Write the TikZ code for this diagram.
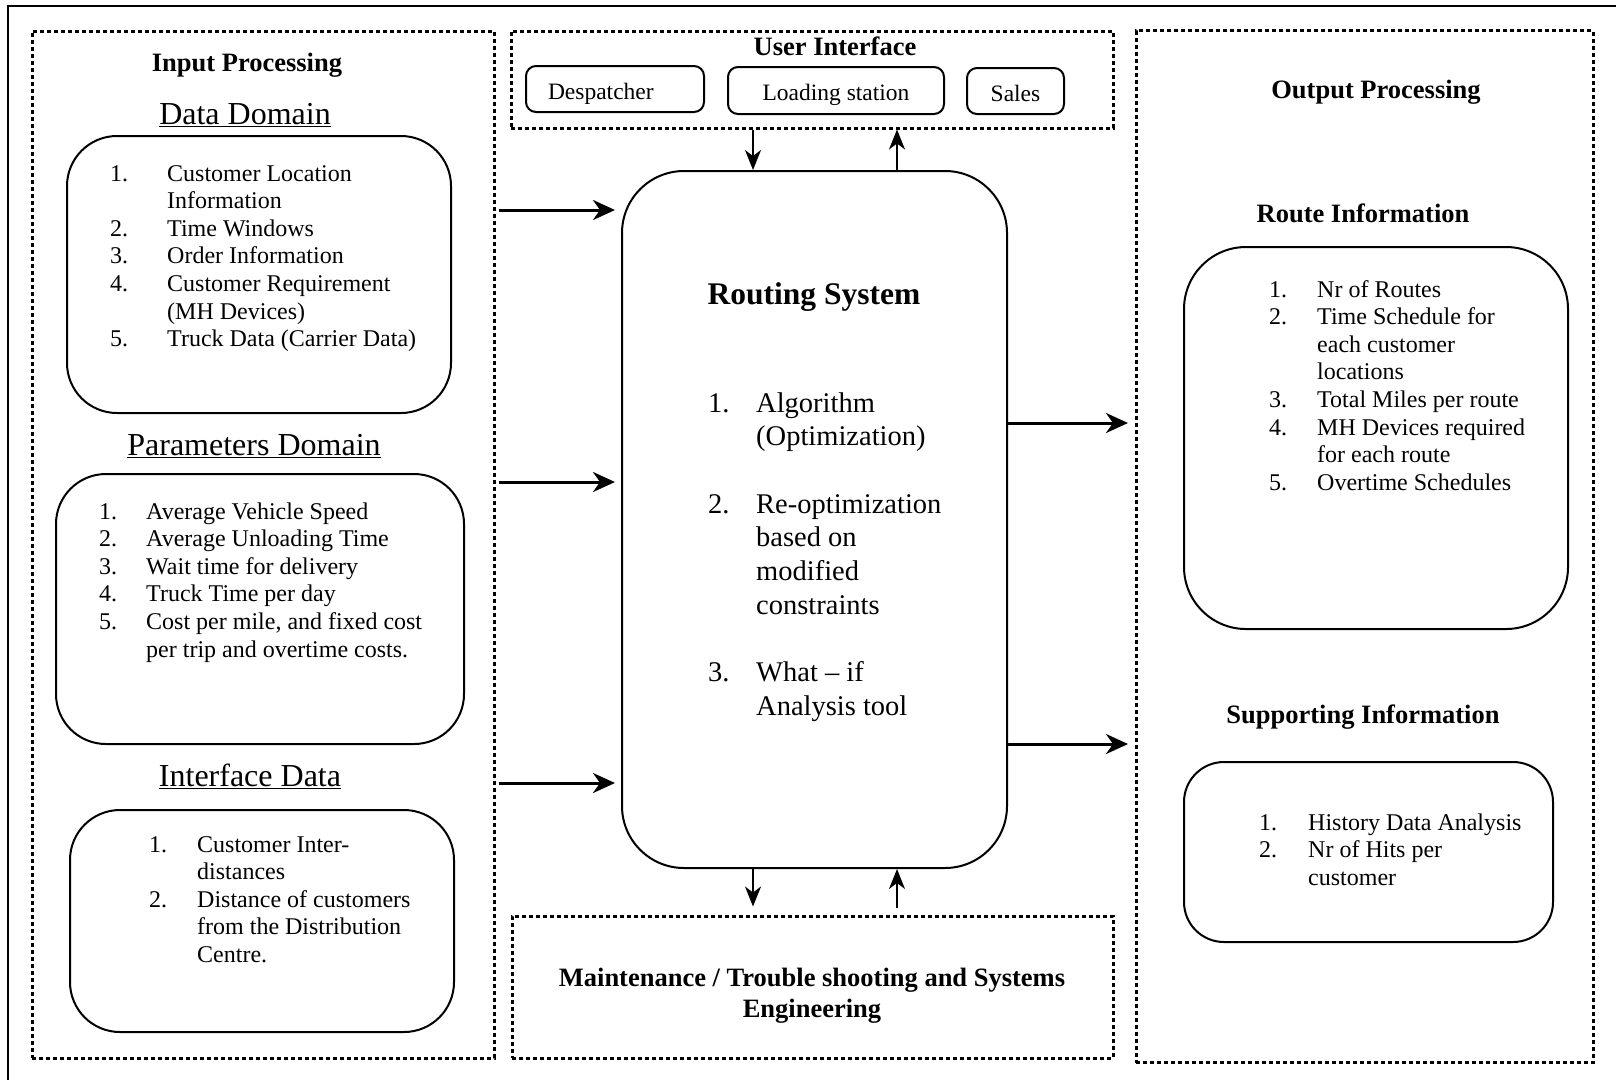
\documentclass[tikz,border=0pt]{standalone}
\usepackage{fontspec}
\setmainfont{Liberation Serif}
\usetikzlibrary{arrows.meta}

\newcommand{\itemlist}[2]{\begin{tabular}[t]{@{}p{#1}@{}l@{}}#2\end{tabular}}

\tikzset{
    dotbox/.style={draw, line width=3pt, dash pattern=on 4pt off 3pt, inner sep=0pt},
    roundbox/.style={draw, line width=2pt, rounded corners=#1, inner sep=0pt},
    sectitle/.style={font=\fontsize{26.5}{31}\selectfont\bfseries},
    domtitle/.style={font=\fontsize{32}{36}\selectfont},
    listtext/.style={font=\fontsize{24}{27.6}\selectfont, anchor=base west, inner sep=0pt},
    rslist/.style={font=\fontsize{28.5}{33.7}\selectfont, anchor=base west, inner sep=0pt},
    btntext/.style={font=\fontsize{23.5}{27}\selectfont, text height=20pt, text depth=0pt},
    thickarrow/.style={line width=3pt, -{Stealth[length=22pt, width=20pt, inset=7pt]}},
    thinarrow/.style={line width=1.8pt, -{Stealth[length=20pt, width=16pt, inset=6pt]}}
}

\begin{document}
\begin{tikzpicture}[x=1pt, y=-1pt]
    \useasboundingbox (0,0) rectangle (1616,1080);
    \draw[line width=2.5pt] (8,1080) -- (8,6) -- (1616,6);

    % dotted frames
    \node[dotbox, minimum width=462pt, minimum height=1027pt] (inp) at (263,544.5) {};
    \node[dotbox, minimum width=602pt, minimum height=97pt] (ui) at (812,79.5) {};
    \node[dotbox, minimum width=457pt, minimum height=1032pt] (out) at (1364.5,546.5) {};
    \node[dotbox, minimum width=601pt, minimum height=142pt] (mt) at (812.5,987) {};

    % input side
    \node[sectitle] (inpt) at (247,65) {Input Processing};
    \node[domtitle] (ddt) at (245,115) {\underline{Data Domain}};
    \node[roundbox=50pt, minimum width=384pt, minimum height=277pt] (dd) at (259,274.5) {};
    \node[listtext] (ddl) at (110,181) {\itemlist{57pt}{
        1. & Customer Location\\
           & Information\\
        2. & Time Windows\\
        3. & Order Information\\
        4. & Customer Requirement\\
           & (MH Devices)\\
        5. & Truck Data (Carrier Data)}};

    \node[domtitle] (pdt) at (254,446) {\underline{Parameters Domain}};
    \node[roundbox=50pt, minimum width=408pt, minimum height=270pt] (pd) at (260,609) {};
    \node[listtext] (pdl) at (99,519) {\itemlist{47pt}{
        1. & Average Vehicle Speed\\
        2. & Average Unloading Time\\
        3. & Wait time for delivery\\
        4. & Truck Time per day\\
        5. & Cost per mile, and fixed cost\\
           & per trip and overtime costs.}};

    \node[domtitle] (idt) at (250,776) {\underline{Interface Data}};
    \node[roundbox=50pt, minimum width=384pt, minimum height=222pt] (id) at (262,921) {};
    \node[listtext] (idl) at (149,852) {\itemlist{48pt}{
        1. & Customer Inter-\\
           & distances\\
        2. & Distance of customers\\
           & from the Distribution\\
           & Centre.}};

    % user interface
    \node[sectitle] (uit) at (835,46) {User Interface};
    \node[roundbox=10pt, btntext, minimum width=178pt, minimum height=46pt,
          text width=134pt, inner xsep=22pt, align=left] (desp) at (615,89) {Despatcher};
    \node[roundbox=10pt, btntext, minimum width=216pt, minimum height=47pt] (load) at (836,90.5) {Loading station};
    \node[roundbox=10pt, btntext, minimum width=97pt, minimum height=46pt] (sales) at (1015.5,91) {Sales};

    % routing system
    \node[roundbox=62pt, minimum width=385pt, minimum height=697pt] (rs) at (814.5,519.5) {};
    \node[font=\fontsize{31.5}{36}\selectfont\bfseries] (rst) at (814,297) {Routing System};
    \node[rslist] (rsl) at (708,412) {\itemlist{48pt}{
        1. & Algorithm\\
           & (Optimization)\\
           & \\
        2. & Re-optimization\\
           & based on\\
           & modified\\
           & constraints\\
           & \\
        3. & What -- if\\
           & Analysis tool}};

    % maintenance
    \node[sectitle, align=center] (mtt) at (812,996) {Maintenance / Trouble shooting and Systems\\Engineering};

    % output side
    \node[sectitle] (outt) at (1376,92) {Output Processing};
    \node[sectitle] (rit) at (1363,213) {Route Information};
    \node[roundbox=62pt, minimum width=384pt, minimum height=382pt] (ri) at (1376,438) {};
    \node[listtext] (ril) at (1269,297) {\itemlist{48pt}{
        1. & Nr of Routes\\
        2. & Time Schedule for\\
           & each customer\\
           & locations\\
        3. & Total Miles per route\\
        4. & MH Devices required\\
           & for each route\\
        5. & Overtime Schedules}};

    \node[sectitle] (sit) at (1363,717) {Supporting Information};
    \node[roundbox=40pt, minimum width=369pt, minimum height=180pt] (si) at (1368.5,852) {};
    \node[listtext] (sil) at (1259,830) {\itemlist{49pt}{
        1. & History Data Analysis\\
        2. & Nr of Hits per\\
           & customer}};

    % connectors
    \coordinate (i1) at (499,210);
    \coordinate (i2) at (499,482);
    \coordinate (i3) at (499,783);
    \draw[thickarrow, shorten >=6pt] (i1) -- (i1 -| rs.west);
    \draw[thickarrow, shorten >=6pt] (i2) -- (i2 -| rs.west);
    \draw[thickarrow, shorten >=6pt] (i3) -- (i3 -| rs.west);

    \coordinate (o1) at (1128,423);
    \coordinate (o2) at (1128,744);
    \draw[thickarrow] (o1 -| rs.east) -- (o1);
    \draw[thickarrow] (o2 -| rs.east) -- (o2);

    \coordinate (dn) at (753,0);
    \coordinate (up) at (897,0);
    \draw[thinarrow] (dn |- ui.south) -- (dn |- rs.north);
    \draw[thinarrow] (up |- rs.north) -- (up |- ui.south);
    \draw[thinarrow, shorten >=8pt] (dn |- rs.south) -- (dn |- mt.north);
    \draw[thinarrow, shorten <=7pt] (up |- mt.north) -- (up |- rs.south);
\end{tikzpicture}
\end{document}
